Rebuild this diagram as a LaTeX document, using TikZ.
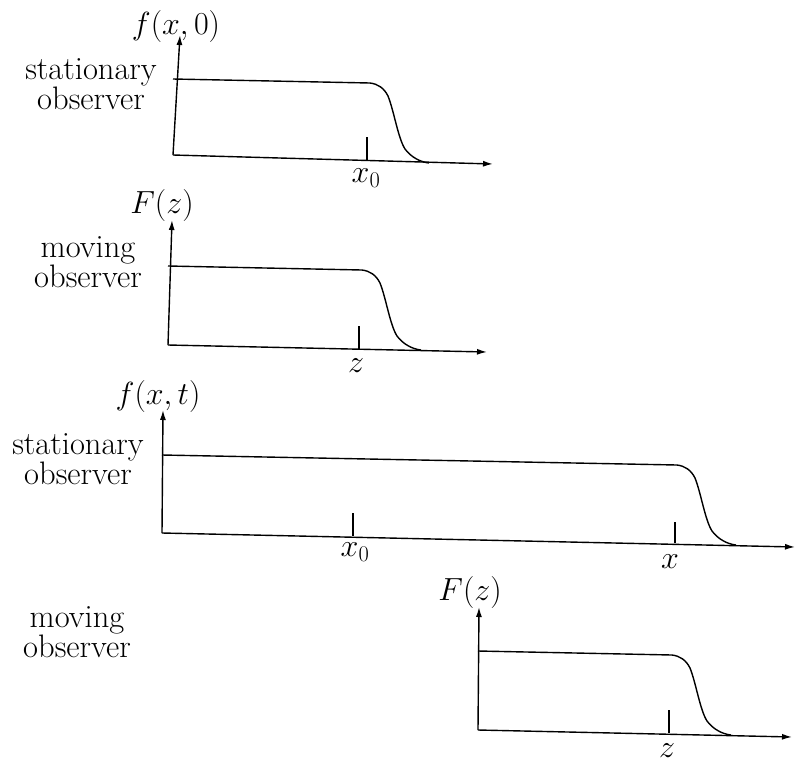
\RequirePackage{fix-cm}
\documentclass[tikz,border=0pt]{standalone}
\usetikzlibrary{arrows.meta}
\begin{document}
\begin{tikzpicture}[x=1pt,y=-1pt,
  line width=1.4pt,
  axis/.style={-{Latex[length=10pt,width=6pt]}},
  curve/.style={line join=round},
  lbl/.style={font=\fontsize{32}{26}\selectfont, inner sep=0pt},
  side/.style={font=\fontsize{32.5}{23}\selectfont, align=center, inner sep=0pt},
  falloff/.pic={\draw[curve] (0,0) .. controls (8,1) and (14,5) .. (18,13) .. controls (24,28) and (28,55) .. (35,66) .. controls (41,74) and (50,79) .. (59,80);}
]
\useasboundingbox (0,0) rectangle (795,764);

% ---------- plot 1 ----------
\coordinate (o1) at (173,155);
\coordinate (y1) at (180,35);
\coordinate (e1) at (493,164);
\coordinate (s1) at (173,79);
\coordinate (k1) at (370,83);
\draw[axis] (o1) -- (y1);
\draw[axis] (o1) -- (e1);
\draw[curve] (s1) -- (k1);
\pic at (k1) {falloff};
\coordinate (t1a) at (367,137);
\coordinate (t1b) at (367,161);
\draw (t1a) -- (t1b);
\node[lbl] (f1) at (176,26) {$f(x,0)$};
\node[lbl] (x01) at (366,178) {$x_0$};
\node[side] (st1) at (91,84) {stationary\\observer};

% ---------- plot 2 ----------
\coordinate (o2) at (168,345);
\coordinate (y2) at (172,220);
\coordinate (e2) at (487,352);
\coordinate (s2) at (168,266);
\coordinate (k2) at (362,270);
\draw[axis] (o2) -- (y2);
\draw[axis] (o2) -- (e2);
\draw[curve] (s2) -- (k2);
\pic at (k2) {falloff};
\coordinate (t2a) at (359,326);
\coordinate (t2b) at (359,349);
\draw (t2a) -- (t2b);
\node[lbl] (F2) at (162,205) {$F(z)$};
\node[lbl] (z2) at (356,366) {$z$};
\node[side] (mo2) at (88,262) {moving\\observer};

% ---------- plot 3 ----------
\coordinate (o3) at (162,533);
\coordinate (y3) at (163,410);
\coordinate (e3) at (795,547);
\coordinate (s3) at (162,455);
\coordinate (k3) at (677,465);
\draw[axis] (o3) -- (y3);
\draw[axis] (o3) -- (e3);
\draw[curve] (s3) -- (k3);
\pic at (k3) {falloff};
\coordinate (t3a) at (353,513);
\coordinate (t3b) at (353,536);
\coordinate (t3c) at (675,522);
\coordinate (t3d) at (675,543);
\draw (t3a) -- (t3b);
\draw (t3c) -- (t3d);
\node[lbl] (f3) at (158,396) {$f(x,t)$};
\node[lbl] (x03) at (355,552) {$x_0$};
\node[lbl] (x3) at (670,562) {$x$};
\node[side] (st3) at (78,459) {stationary\\observer};

% ---------- plot 4 ----------
\coordinate (o4) at (478,730);
\coordinate (y4) at (479,607);
\coordinate (e4) at (792,737);
\coordinate (s4) at (478,651);
\coordinate (k4) at (672,655);
\draw[axis] (o4) -- (y4);
\draw[axis] (o4) -- (e4);
\draw[curve] (s4) -- (k4);
\pic at (k4) {falloff};
\coordinate (t4a) at (669,710);
\coordinate (t4b) at (669,733);
\draw (t4a) -- (t4b);
\node[lbl] (F4) at (470,592) {$F(z)$};
\node[lbl] (z4) at (667,751) {$z$};
\node[side] (mo4) at (77,632) {moving\\observer};
\end{tikzpicture}
\end{document}
